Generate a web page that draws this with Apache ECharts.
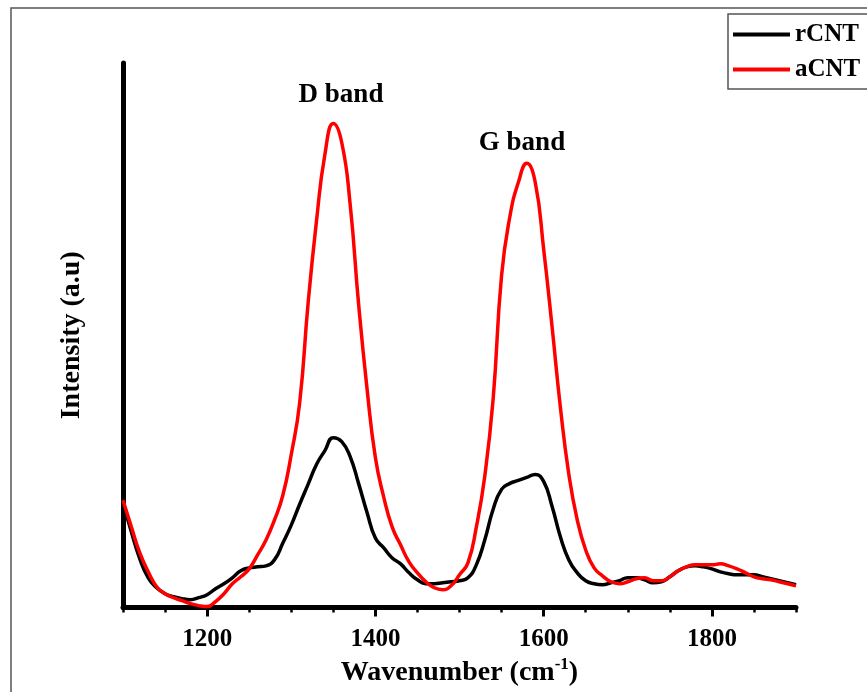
<!DOCTYPE html>
<html>
<head>
<meta charset="utf-8">
<script src="https://cdn.jsdelivr.net/npm/echarts@6/dist/echarts.min.js"></script>
<style>
html, body { margin: 0; padding: 0; background: #fff; }
#chart { width: 867px; height: 692px; }
</style>
</head>
<body>
<div id="chart"></div>
<script>
let wavenumber = [1100, 1110, 1120, 1130, 1140, 1150, 1160, 1170, 1180, 1190,
    1200, 1210, 1220, 1230, 1240, 1250, 1260, 1270, 1280, 1290,
    1300, 1310, 1320, 1330, 1340, 1350, 1360, 1370, 1380, 1390,
    1400, 1410, 1420, 1430, 1440, 1450, 1460, 1470, 1480, 1490,
    1500, 1510, 1520, 1530, 1540, 1550, 1560, 1570, 1580, 1590,
    1600, 1610, 1620, 1630, 1640, 1650, 1660, 1670, 1680, 1690,
    1700, 1710, 1720, 1730, 1740, 1750, 1760, 1770, 1780, 1790,
    1800, 1810, 1820, 1830, 1840, 1850, 1860, 1870, 1880, 1890, 1900]
let rCNT = [106, 76, 49, 30, 20, 14, 11, 9, 8, 10,
    13, 19, 24, 30, 37, 40, 41, 42, 48, 65,
    83, 104, 124, 144, 158, 171, 167, 152, 125, 96,
    70, 60, 50, 44, 35, 28, 24, 24, 25, 26,
    27, 30, 43, 68, 99, 119, 125, 128, 131, 134,
    127, 102, 71, 48, 35, 27, 24, 23, 25, 27,
    30, 30, 28, 25, 26, 31, 37, 41, 42, 41,
    39, 36, 34, 33, 33, 33, 31, 29, 27, 25, 23]
let aCNT = [108, 81, 55, 36, 21, 14, 10, 7, 4, 2,
    1, 6, 14, 24, 31, 39, 53, 68, 88, 113,
    154, 206, 306, 389, 456, 487, 468, 406, 306, 221,
    151, 111, 81, 63, 46, 35, 26, 20, 18, 22,
    33, 45, 81, 132, 210, 334, 394, 428, 447, 428,
    361, 283, 201, 134, 88, 58, 40, 32, 26, 24,
    26, 29, 30, 27, 27, 31, 37, 41, 43, 43,
    43, 44, 42, 39, 35, 31, 29, 28, 26, 24, 22]
let xTicks = [1200, 1400, 1600, 1800]

let font = 'Liberation Serif'
let chart = echarts.init(document.getElementById('chart'))

function pairs(ys) {
    return wavenumber.map((x, i) => [x, ys[i]])
}

let option = {
    animation: false,
    backgroundColor: '#fff',
    grid: { left: 123, right: 71, top: 63, bottom: 81 },
    legend: {
        orient: 'vertical',
        left: 728,
        top: 14,
        padding: [8, 30, 7, 5],
        itemGap: 10,
        itemWidth: 57,
        itemHeight: 4,
        icon: 'rect',
        borderColor: '#555',
        borderWidth: 1.5,
        textStyle: { fontFamily: font, fontWeight: 'bold', fontSize: 25, color: '#000', lineHeight: 24 },
        data: ['rCNT', 'aCNT']
    },
    xAxis: [
        {
            type: 'value',
            min: 1100,
            max: 1900,
            splitLine: { show: false },
            axisLine: { lineStyle: { color: '#000', width: 5 } },
            axisTick: { customValues: xTicks, length: 9, lineStyle: { color: '#000', width: 3 } },
            axisLabel: {
                customValues: xTicks,
                formatter: v => String(v),
                margin: 19,
                color: '#000',
                fontFamily: font,
                fontWeight: 'bold',
                fontSize: 25
            },
            name: 'Wavenumber (cm{sup|-1})',
            nameLocation: 'middle',
            nameGap: 48,
            nameTextStyle: {
                fontFamily: font,
                fontWeight: 'bold',
                fontSize: 28,
                color: '#000',
                rich: {
                    sup: { fontFamily: font, fontWeight: 'bold', fontSize: 17, color: '#000', padding: [0, 0, 16, 0] }
                }
            }
        },
        {
            // minor ticks every 50
            type: 'value',
            position: 'bottom',
            min: 1100,
            max: 1900,
            interval: 50,
            splitLine: { show: false },
            axisLine: { show: false },
            axisTick: { length: 5, lineStyle: { color: '#000', width: 2.5 } },
            axisLabel: { show: false }
        }
    ],
    yAxis: {
        type: 'value',
        min: 0,
        max: 548,
        splitLine: { show: false },
        axisLine: { show: true, lineStyle: { color: '#000', width: 5 } },
        axisTick: { show: false },
        axisLabel: { show: false },
        name: 'Intensity (a.u)',
        nameLocation: 'middle',
        nameGap: 37,
        nameTextStyle: { fontFamily: font, fontWeight: 'bold', fontSize: 28, color: '#000' }
    },
    graphic: [
        {
            type: 'rect',
            shape: { x: 11, y: 8, width: 900, height: 720 },
            style: { fill: 'none', stroke: '#555', lineWidth: 1.5 },
            silent: true
        },
        {
            type: 'text',
            x: 341, y: 95,
            style: { text: 'D band', fontFamily: font, fontWeight: 'bold', fontSize: 27, fill: '#000', align: 'center', verticalAlign: 'middle' }
        },
        {
            type: 'text',
            x: 522, y: 143,
            style: { text: 'G band', fontFamily: font, fontWeight: 'bold', fontSize: 27, fill: '#000', align: 'center', verticalAlign: 'middle' }
        }
    ],
    series: [
        {
            name: 'rCNT',
            type: 'line',
            data: pairs(rCNT),
            smooth: 0.5,
            showSymbol: false,
            symbol: 'none',
            itemStyle: { color: '#000' },
            lineStyle: { color: '#000', width: 3.5 }
        },
        {
            name: 'aCNT',
            type: 'line',
            data: pairs(aCNT),
            smooth: 0.5,
            showSymbol: false,
            symbol: 'none',
            itemStyle: { color: '#ff0000' },
            lineStyle: { color: '#ff0000', width: 3.5 }
        }
    ]
}
chart.setOption(option)
</script>
</body>
</html>
